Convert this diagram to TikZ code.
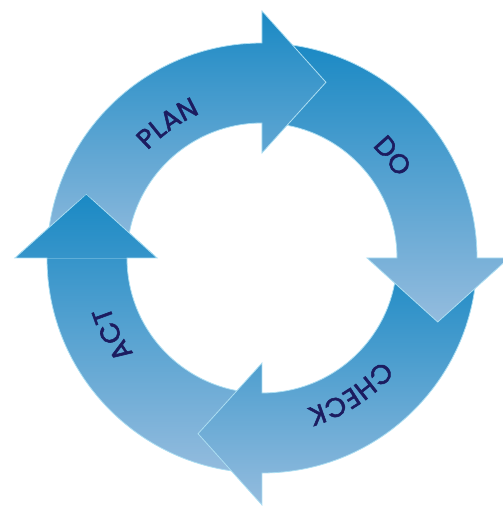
\documentclass[tikz,border=0pt]{standalone}
\usepackage{fontspec}
\usetikzlibrary{decorations.text}
\newfontfamily\pdcafont{Poppins}[FakeBold=2]
\definecolor{pdcadark}{RGB}{26,137,196}
\definecolor{pdcalight}{RGB}{148,188,222}
\definecolor{pdcaedge}{RGB}{172,222,242}
\definecolor{pdcanavy}{RGB}{28,28,96}
\newcommand{\pdcastyle}{\pdcafont\fontsize{27}{30}\selectfont\color{pdcanavy}}
% ring arrow: start angle, head base angle, tip angle
\newcommand{\pdcaarrow}[3]{%
  (#1:215pt) arc[start angle=#1, end angle=#2, radius=215pt]
  -- (#2:247pt) -- (#3:187pt) -- (#2:105pt) -- (#2:135pt)
  arc[start angle=#2, end angle=#1, radius=135pt] -- cycle}
\tikzset{
  ringarrow/.style={top color=pdcadark, bottom color=pdcalight,
    draw=pdcaedge, line width=0.8pt},
  ringlabel/.style={decorate, decoration={text along path,
    text align=center, text={|\pdcastyle|#1}}}
}

\begin{document}
\begin{tikzpicture}
  \useasboundingbox (-262pt,-248pt) rectangle (241pt,258pt);
  % Arrows, each head lying on the next one
  \shadedraw[ringarrow] \pdcaarrow{270}{180}{160};
  \shadedraw[ringarrow] \pdcaarrow{0}{-90}{-110};
  \shadedraw[ringarrow] \pdcaarrow{90}{0}{-20};
  \shadedraw[ringarrow] \pdcaarrow{180}{90}{70};
  % ACT head again, over the PLAN tail
  \begin{scope}
    \clip (180:250pt) -- (160:187pt) -- (180:100pt) -- cycle;
    \shadedraw[ringarrow] \pdcaarrow{270}{180}{160};
  \end{scope}
  % Labels
  \path[ringlabel=PLAN] (165:157pt) arc[start angle=165, end angle=85, radius=157pt];
  \path[ringlabel=DO] (78:157pt) arc[start angle=78, end angle=-2, radius=157pt];
  \path[ringlabel=CHECK] (-17:157pt) arc[start angle=-17, end angle=-97, radius=157pt];
  \path[ringlabel=ACT] (247:160pt) arc[start angle=247, end angle=167, radius=160pt];
\end{tikzpicture}
\end{document}
